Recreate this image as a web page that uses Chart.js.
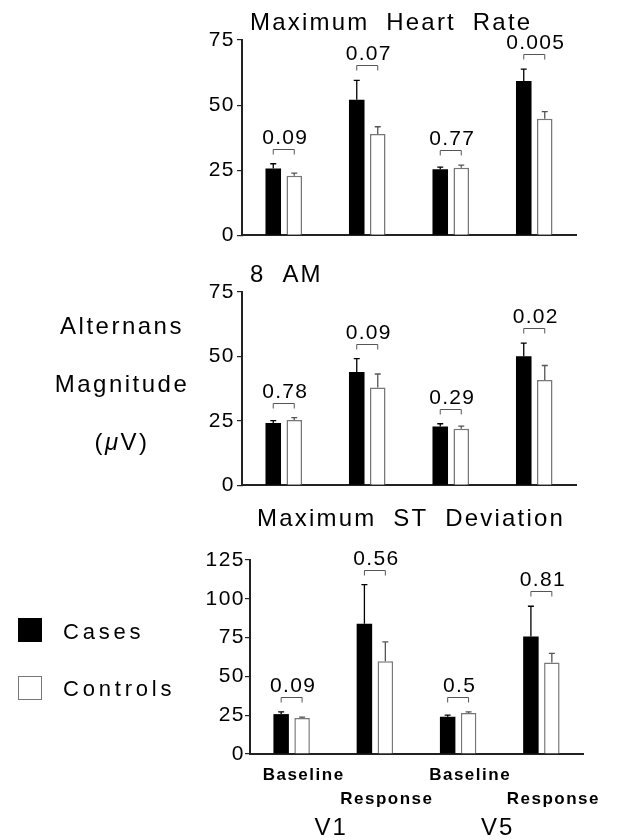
<!DOCTYPE html>
<html>
<head>
<meta charset="utf-8">
<script src="https://cdn.jsdelivr.net/npm/chart.js@4.4.1/dist/chart.umd.min.js"></script>
<style>
  html, body { margin: 0; padding: 0; background: #fff; }
  body { width: 632px; height: 840px; position: relative; overflow: hidden;
         font-family: "Liberation Sans", Arial, sans-serif; color: #000; }
  canvas { position: absolute; left: 0; }
  #c1 { top: 0; }
  #c2 { top: 250px; }
  #c3 { top: 500px; }
  .ylab { position: absolute; left: 0; width: 244px; text-align: center;
          font-size: 24px; letter-spacing: 2.5px; line-height: 24px; }
  .key { position: absolute; left: 18px; width: 24px; height: 24px; box-sizing: border-box; }
  .keytxt { position: absolute; left: 63px; font-size: 22px; letter-spacing: 3.8px; line-height: 22px; }
</style>
</head>
<body>
<canvas id="c1" width="632" height="250"></canvas>
<canvas id="c2" width="632" height="250"></canvas>
<canvas id="c3" width="632" height="340"></canvas>

<div class="ylab" style="top:314px">Alternans</div>
<div class="ylab" style="top:372px">Magnitude</div>
<div class="ylab" style="top:430px">(<i>μ</i>V)</div>

<div class="key" style="top:618px; background:#000;"></div>
<div class="keytxt" style="top:621px">Cases</div>
<div class="key" style="top:676px; background:#fff; border:1px solid #777;"></div>
<div class="keytxt" style="top:678px">Controls</div>

<script>
/*global Chart, document*/
'use strict';

// ------------------------------------------------------- //
// Data
// ------------------------------------------------------ //
var categories = ['Baseline', 'Response', 'Baseline', 'Response'];

// Maximum Heart Rate
var hrCases = [25.7, 52.1, 25.4, 59.3];
var hrCasesErr = [1.8, 7.4, 0.8, 4.5];
var hrControls = [22.9, 38.9, 26.0, 44.8];
var hrControlsErr = [1.0, 2.8, 1.0, 2.7];
var hrP = ['0.09', '0.07', '0.77', '0.005'];

// 8 AM
var amCases = [24.2, 44.0, 22.8, 50.1];
var amCasesErr = [0.9, 5.2, 1.1, 5.1];
var amControls = [25.4, 38.0, 22.0, 40.9];
var amControlsErr = [0.9, 5.2, 1.0, 5.6];
var amP = ['0.78', '0.09', '0.29', '0.02'];

// Maximum ST Deviation
var stCases = [25.7, 84.0, 24.0, 75.7];
var stCasesErr = [1.5, 25.1, 1.1, 19.5];
var stControls = [23.2, 59.8, 26.4, 59.0];
var stControlsErr = [0.6, 12.5, 0.8, 5.8];
var stP = ['0.09', '0.56', '0.5', '0.81'];

var leadLabels = ['V1', 'V5'];
var yMaxSmall = 75;
var yMaxLarge = 125;
var yStep = 25;

var FONT = '"Liberation Sans", Arial, sans-serif';

// ------------------------------------------------------- //
// Error bars, p-value brackets, titles
// ------------------------------------------------------ //
var panelDecor = {
    id: 'panelDecor',
    beforeLayout: function (chart) {
        chart.ctx.letterSpacing = '1.5px';
    },
    beforeDraw: function (chart) {
        chart.ctx.letterSpacing = '1.5px';
    },
    afterDatasetsDraw: function (chart, args, opts) {
        var ctx = chart.ctx;
        var yScale = chart.scales.y;
        var metas = [chart.getDatasetMeta(0), chart.getDatasetMeta(1)];
        ctx.save();

        // error bars (upper half only)
        chart.data.datasets.forEach(function (ds, di) {
            metas[di].data.forEach(function (bar, i) {
                var top = yScale.getPixelForValue(ds.data[i] + ds.errors[i]);
                ctx.strokeStyle = ds.errorColor;
                ctx.lineWidth = 1.3;
                ctx.beginPath();
                ctx.moveTo(bar.x, bar.y);
                ctx.lineTo(bar.x, top);
                ctx.moveTo(bar.x - 3, top);
                ctx.lineTo(bar.x + 3, top);
                ctx.stroke();
            });
        });

        // brackets with p values
        ctx.font = '21px ' + FONT;
        ctx.letterSpacing = '1.3px';
        ctx.fillStyle = '#000';
        ctx.textAlign = 'center';
        ctx.textBaseline = 'alphabetic';
        opts.pValues.forEach(function (p, i) {
            var xa = metas[0].data[i].x;
            var xb = metas[1].data[i].x;
            var top = Math.min.apply(null, chart.data.datasets.map(function (ds) {
                return yScale.getPixelForValue(ds.data[i] + ds.errors[i]);
            }));
            var by = Math.round(top - 15) + 0.5;
            ctx.strokeStyle = '#555';
            ctx.lineWidth = 1;
            ctx.beginPath();
            ctx.moveTo(xa, by + 5);
            ctx.lineTo(xa, by);
            ctx.lineTo(xb, by);
            ctx.lineTo(xb, by + 5);
            ctx.stroke();
            ctx.fillText(p, (xa + xb) / 2 + 1.5, by - 6);
        });
        ctx.restore();
    },
    afterDraw: function (chart, args, opts) {
        var ctx = chart.ctx;
        ctx.save();
        ctx.fillStyle = '#000';
        ctx.font = '24px ' + FONT;
        ctx.letterSpacing = '2.2px';
        ctx.wordSpacing = '8px';
        ctx.textAlign = 'left';
        ctx.textBaseline = 'middle';
        ctx.fillText(opts.title, opts.titleX, opts.titleY);

        if (opts.groups) {
            var xs = chart.scales.x;
            ctx.font = '24px ' + FONT;
            ctx.textAlign = 'center';
            ctx.wordSpacing = '0px';
            ctx.letterSpacing = '2px';
            opts.groups.forEach(function (g, k) {
                var mid = (xs.getPixelForValue(2 * k) + xs.getPixelForValue(2 * k + 1)) / 2;
                ctx.fillText(g, mid - 2, chart.chartArea.bottom + 74);
            });
        }
        ctx.restore();
    }
};

// ------------------------------------------------------- //
// Chart factory
// ------------------------------------------------------ //
function makePanel(id, cases, casesErr, controls, controlsErr, pValues, cfg) {
    return new Chart(document.getElementById(id), {
        type: 'bar',
        plugins: [panelDecor],
        data: {
            labels: cfg.showLabels ? categories.map(function (c, i) {
                return i % 2 === 1 ? ['', c] : c;
            }) : categories,
            datasets: [
                {
                    label: 'Cases',
                    data: cases,
                    errors: casesErr,
                    errorColor: '#000',
                    backgroundColor: '#000',
                    borderColor: '#000',
                    borderWidth: 0,
                    categoryPercentage: 0.503,
                    barPercentage: 0.74
                },
                {
                    label: 'Controls',
                    data: controls,
                    errors: controlsErr,
                    errorColor: '#555',
                    backgroundColor: '#fff',
                    borderColor: '#777',
                    borderWidth: 1.5,
                    categoryPercentage: 0.503,
                    barPercentage: 0.74
                }
            ]
        },
        options: {
            responsive: false,
            animation: false,
            devicePixelRatio: 1,
            layout: {
                padding: { left: 0, top: cfg.top, right: cfg.right, bottom: cfg.bottom }
            },
            plugins: {
                legend: { display: false },
                tooltip: { enabled: false },
                title: { display: false },
                panelDecor: {
                    pValues: pValues,
                    title: cfg.title,
                    titleX: cfg.titleX,
                    titleY: cfg.titleY,
                    groups: cfg.showLabels ? leadLabels : null
                }
            },
            scales: {
                x: {
                    grid: { display: false, drawTicks: false, tickLength: 0 },
                    border: { display: true, color: '#222', width: 2 },
                    ticks: {
                        display: !!cfg.showLabels,
                        color: '#000',
                        padding: 10,
                        labelOffset: 12,
                        maxRotation: 0,
                        autoSkip: false,
                        font: { family: FONT, size: 17, weight: 'bold', lineHeight: 1.37 }
                    },
                    afterFit: function (scale) {
                        scale.height = cfg.xHeight;
                    }
                },
                y: {
                    min: 0,
                    max: cfg.max,
                    grid: { display: true, drawOnChartArea: false, drawTicks: true,
                            tickLength: 5, color: '#222', lineWidth: 1.2 },
                    border: { display: true, color: '#222', width: 2 },
                    ticks: {
                        stepSize: yStep,
                        color: '#000',
                        padding: cfg.tickPad,
                        font: { family: FONT, size: 21 }
                    },
                    afterFit: function (scale) {
                        scale.width = cfg.left;
                    }
                }
            }
        }
    });
}

var chartHR = makePanel('c1', hrCases, hrCasesErr, hrControls, hrControlsErr, hrP, {
    title: 'Maximum Heart Rate', titleX: 250, titleY: 23,
    max: yMaxSmall, left: 242, top: 40, right: 56, bottom: 14, xHeight: 0, tickPad: 2
});

var chartAM = makePanel('c2', amCases, amCasesErr, amControls, amControlsErr, amP, {
    title: '8 AM', titleX: 250, titleY: 25,
    max: yMaxSmall, left: 242, top: 42, right: 56, bottom: 13, xHeight: 0, tickPad: 2
});

var chartST = makePanel('c3', stCases, stCasesErr, stControls, stControlsErr, stP, {
    title: 'Maximum ST Deviation', titleX: 257, titleY: 19,
    max: yMaxLarge, left: 250, top: 60, right: 49, bottom: 29, xHeight: 57, tickPad: 0,
    showLabels: true
});
</script>
</body>
</html>
